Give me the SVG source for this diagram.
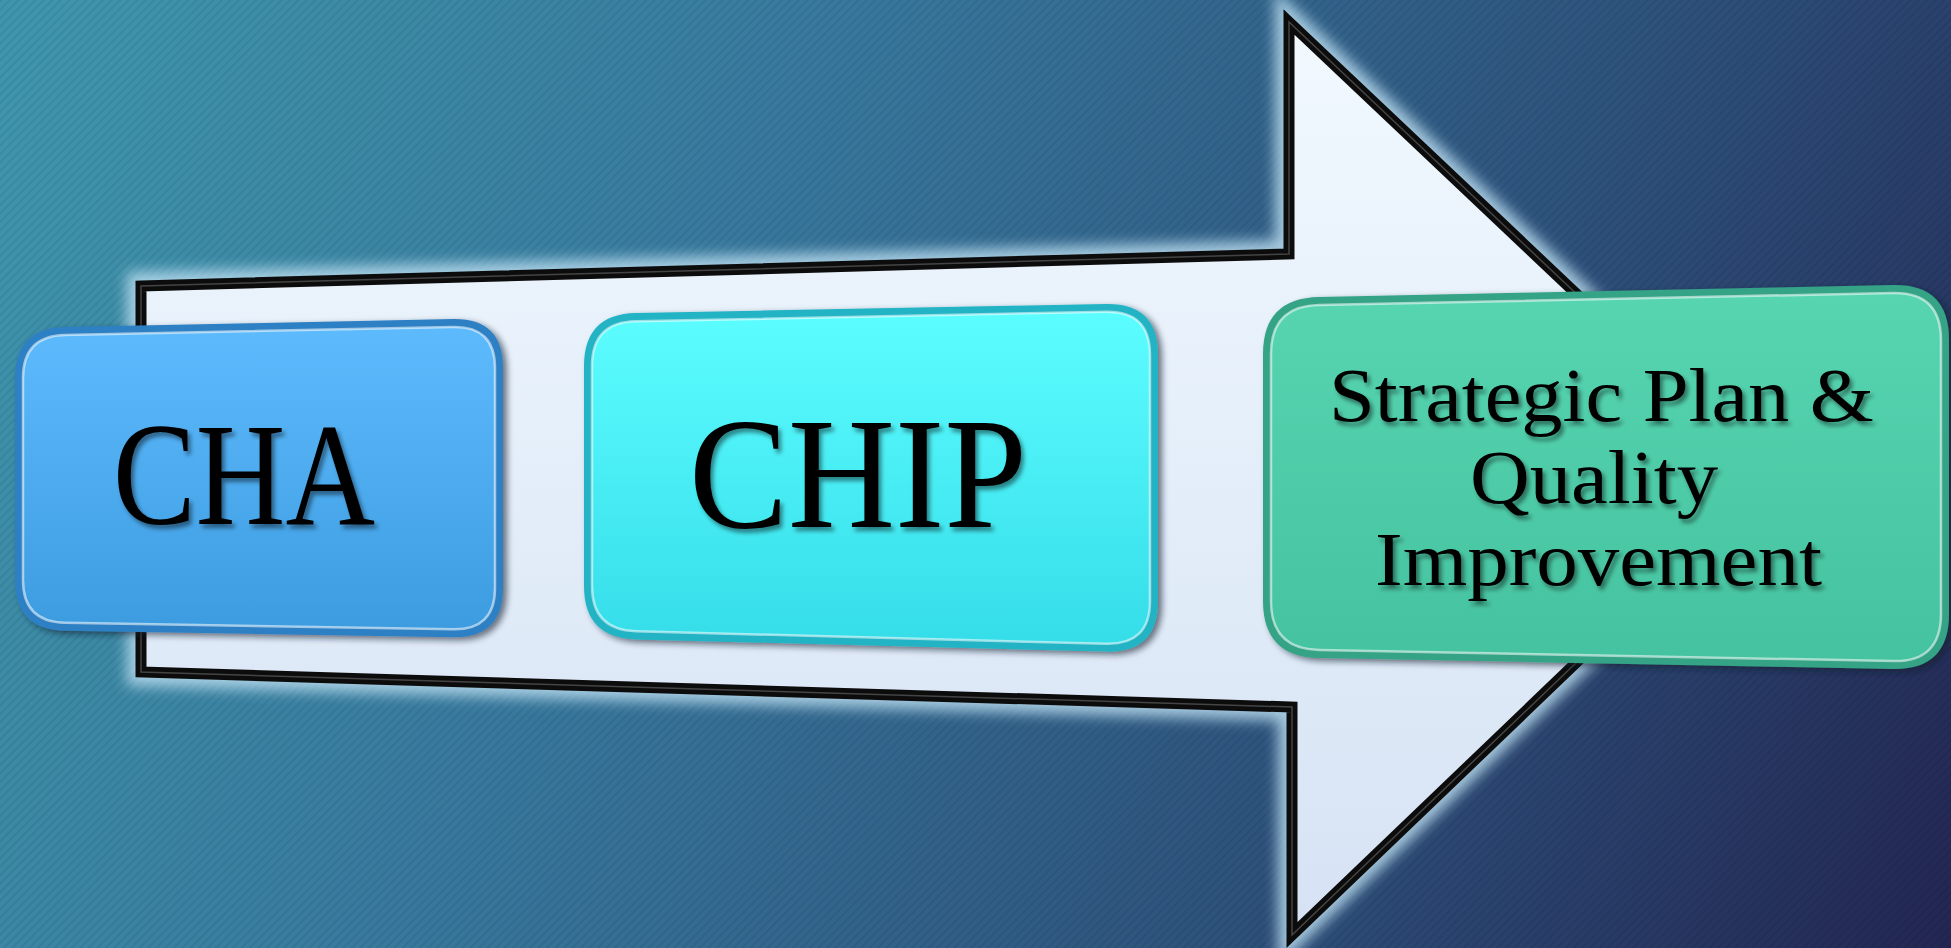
<svg xmlns="http://www.w3.org/2000/svg" width="1951" height="948" viewBox="0 0 1951 948">
<defs>
  <linearGradient id="bg" gradientUnits="userSpaceOnUse" x1="0" y1="0" x2="1951" y2="948">
    <stop offset="0" stop-color="#3f97ad"/>
    <stop offset="0.35" stop-color="#38799d"/>
    <stop offset="0.7" stop-color="#2d517b"/>
    <stop offset="1" stop-color="#232652"/>
  </linearGradient>
  <pattern id="stripes" patternUnits="userSpaceOnUse" width="6" height="6" patternTransform="rotate(45)">
    <rect x="0" y="0" width="2" height="6" fill="#000" fill-opacity="0.07"/>
  </pattern>
  <linearGradient id="arrowFill" gradientUnits="userSpaceOnUse" x1="0" y1="0" x2="0" y2="948">
    <stop offset="0" stop-color="#f2faff"/>
    <stop offset="1" stop-color="#d6e2f4"/>
  </linearGradient>
  <linearGradient id="gCha" x1="0" y1="0" x2="0" y2="1">
    <stop offset="0" stop-color="#5dbafd"/>
    <stop offset="1" stop-color="#3d9ce0"/>
  </linearGradient>
  <linearGradient id="gChip" x1="0" y1="0" x2="0" y2="1">
    <stop offset="0" stop-color="#5cfdff"/>
    <stop offset="1" stop-color="#35dde9"/>
  </linearGradient>
  <linearGradient id="gGreen" x1="0" y1="0" x2="0" y2="1">
    <stop offset="0" stop-color="#57d5b1"/>
    <stop offset="1" stop-color="#45c29f"/>
  </linearGradient>
  <filter id="glow" x="-10%" y="-10%" width="120%" height="120%">
    <feGaussianBlur stdDeviation="7"/>
  </filter>
  <filter id="boxShadow" x="-5%" y="-5%" width="112%" height="115%">
    <feDropShadow dx="4" dy="3" stdDeviation="3" flood-color="#0a1a2a" flood-opacity="0.6"/>
  </filter>
  <filter id="txtShadow" x="-5%" y="-10%" width="115%" height="130%">
    <feDropShadow dx="3" dy="4" stdDeviation="2" flood-color="#000" flood-opacity="0.45"/>
  </filter>
</defs>
<style>
  .lbl { font-family: "Liberation Serif", "Times New Roman", serif; fill: #000; filter: url(#txtShadow); }
  .rim { fill: none; stroke: #ffffff; stroke-opacity: 0.55; stroke-width: 2.5; }
</style>

<rect id="background" x="0" y="0" width="1951" height="948" fill="url(#bg)"/>
<rect x="0" y="0" width="1951" height="948" fill="url(#stripes)"/>

<g id="connectors">
  <g id="arrow">
    <path d="M141,286 L1289,254 L1289,22 L1770,477 L1292,935 L1292,707 L141,672 Z" fill="none" stroke="#b9dcee" stroke-opacity="0.85" stroke-width="28" stroke-linejoin="miter" filter="url(#glow)"/>
    <path d="M141,286 L1289,254 L1289,22 L1770,477 L1292,935 L1292,707 L141,672 Z" fill="url(#arrowFill)" stroke="#0c0c0c" stroke-width="11" stroke-linejoin="miter"/>
    <path d="M141,286 L1289,254 L1289,22 L1770,477 L1292,935 L1292,707 L141,672 Z" fill="none" stroke="#6a6a6a" stroke-opacity="0.6" stroke-width="1.5" stroke-linejoin="miter"/>
  </g>
</g>

<g id="node-cha">
  <path d="M15,378 Q15,328 65,327 L453,319 Q503,318 503,368 L503,588 Q503,638 453,637.2 L65,630.8 Q15,630 15,580 Z" fill="#2f80c4" filter="url(#boxShadow)"/>
  <path d="M23,378 Q23,336 65,335 L453,327 Q495,326 495,368 L495,588 Q495,630 453,629.3 L65,622.7 Q23,622 23,580 Z" fill="url(#gCha)"/>
  <path class="rim" d="M23,378 Q23,336 65,335 L453,327 Q495,326 495,368 L495,588 Q495,630 453,629.3 L65,622.7 Q23,622 23,580 Z"/>
  <text class="lbl" x="113" y="524" font-size="147" textLength="262" lengthAdjust="spacingAndGlyphs">CHA</text>
</g>

<g id="node-chip">
  <path d="M584,366 Q584,314 636,313 L1106,304 Q1158,303 1158,355 L1158,601 Q1158,653 1106,651.6 L636,639.4 Q584,638 584,586 Z" fill="#22b3c4" filter="url(#boxShadow)"/>
  <path d="M592,366 Q592,322 636,321.2 L1106,311.8 Q1150,311 1150,355 L1150,601 Q1150,645 1106,643.8 L636,631.2 Q592,630 592,586 Z" fill="url(#gChip)"/>
  <path class="rim" d="M592,366 Q592,322 636,321.2 L1106,311.8 Q1150,311 1150,355 L1150,601 Q1150,645 1106,643.8 L636,631.2 Q592,630 592,586 Z"/>
  <text class="lbl" x="689" y="527" font-size="158" textLength="338" lengthAdjust="spacingAndGlyphs">CHIP</text>
</g>

<g id="node-strategic">
  <path d="M1263,354 Q1263,298 1319,296.9 L1893,285.1 Q1949,284 1949,340 L1949,614 Q1949,670 1893,668.9 L1319,658.1 Q1263,657 1263,601 Z" fill="#36a386" filter="url(#boxShadow)"/>
  <path d="M1271,354 Q1271,306 1319,305 L1893,293 Q1941,292 1941,340 L1941,614 Q1941,662 1893,661.1 L1319,649.9 Q1271,649 1271,601 Z" fill="url(#gGreen)"/>
  <path class="rim" d="M1271,354 Q1271,306 1319,305 L1893,293 Q1941,292 1941,340 L1941,614 Q1941,662 1893,661.1 L1319,649.9 Q1271,649 1271,601 Z"/>
  <text class="lbl" x="1329" y="421" font-size="77" textLength="545" lengthAdjust="spacingAndGlyphs">Strategic Plan &amp;</text>
  <text class="lbl" x="1470" y="503" font-size="77" textLength="248" lengthAdjust="spacingAndGlyphs">Quality</text>
  <text class="lbl" x="1375" y="585" font-size="77" textLength="447" lengthAdjust="spacingAndGlyphs">Improvement</text>
</g>
</svg>
